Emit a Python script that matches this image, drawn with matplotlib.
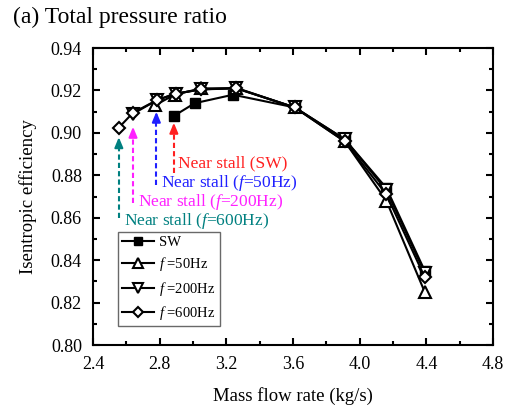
import matplotlib
matplotlib.use("Agg")
import matplotlib.pyplot as plt
from matplotlib.ticker import MultipleLocator

plt.rcParams['font.family'] = ['Liberation Serif', 'DejaVu Serif']
plt.rcParams['mathtext.fontset'] = 'custom'
plt.rcParams['mathtext.it'] = 'Liberation Serif:italic'
plt.rcParams['mathtext.rm'] = 'Liberation Serif'

sw_x = [2.885, 3.01, 3.24, 3.61, 3.91, 4.16, 4.39]
sw_y = [0.908, 0.914, 0.918, 0.912, 0.897, 0.874, 0.835]

f50_x = [2.77, 2.89, 3.05, 3.26, 3.61, 3.91, 4.16, 4.39]
f50_y = [0.913, 0.918, 0.921, 0.921, 0.912, 0.896, 0.868, 0.825]

f200_x = [2.64, 2.785, 2.895, 3.05, 3.26, 3.61, 3.91, 4.16, 4.39]
f200_y = [0.909, 0.9155, 0.9185, 0.9205, 0.921, 0.912, 0.897, 0.873, 0.834]

f600_x = [2.555, 2.64, 2.785, 2.895, 3.05, 3.26, 3.61, 3.91, 4.16, 4.39]
f600_y = [0.9025, 0.9095, 0.9155, 0.9185, 0.9205, 0.9212, 0.912, 0.896, 0.871, 0.832]

stall_labels = ['Near stall (SW)', r'Near stall ($f$=50Hz)', r'Near stall ($f$=200Hz)', r'Near stall ($f$=600Hz)']
stall_colors = ['#ff2020', '#2020ff', '#ff20ff', '#008080']
arrow_x = [2.885, 2.78, 2.64, 2.555]
arrow_top = [0.9048, 0.910, 0.9029, 0.898]
arrow_bottom = [0.881, 0.8754, 0.867, 0.860]
text_x = [2.91, 2.81, 2.67, 2.585]
text_y = [0.8858, 0.8765, 0.8674, 0.8584]

fig = plt.figure(figsize=(5.11, 4.07), dpi=100)
ax = fig.add_axes([0.182, 0.152, 0.783, 0.730])

ms = 7
ax.plot(sw_x, sw_y, '-', color='black', lw=1.5, marker='s', ms=ms, mfc='black', mec='black', label='SW', zorder=3)
ax.plot(f50_x, f50_y, '-', color='black', lw=1.5, marker='^', ms=ms+1, mfc='white', mec='black', mew=1.5, label=r'$f$ =50Hz', zorder=3)
ax.plot(f200_x, f200_y, '-', color='black', lw=1.5, marker='v', ms=ms+1, mfc='white', mec='black', mew=1.5, label=r'$f$ =200Hz', zorder=3)
ax.plot(f600_x, f600_y, '-', color='black', lw=1.5, marker='D', ms=ms-0.5, mfc='white', mec='black', mew=1.5, label=r'$f$ =600Hz', zorder=4)

for lab, c, ax_x, at, ab, tx, ty in zip(stall_labels, stall_colors, arrow_x, arrow_top, arrow_bottom, text_x, text_y):
    ax.plot([ax_x, ax_x], [ab, at - 0.004], ls=(0, (2.5, 1.5)), color=c, lw=1.5, zorder=2)
    ax.annotate('', xy=(ax_x, at), xytext=(ax_x, at - 0.0045),
                arrowprops=dict(arrowstyle='-|>,head_length=0.6,head_width=0.25', color=c, lw=1.5, shrinkA=0, shrinkB=0))
    ax.text(tx, ty, lab, color=c, fontsize=12.5, ha='left', va='center')

ax.set_xlim(2.4, 4.8)
ax.set_ylim(0.80, 0.94)
ax.xaxis.set_major_locator(MultipleLocator(0.4))
ax.xaxis.set_minor_locator(MultipleLocator(0.2))
ax.yaxis.set_major_locator(MultipleLocator(0.02))
ax.yaxis.set_minor_locator(MultipleLocator(0.01))
ax.xaxis.set_major_formatter(matplotlib.ticker.FormatStrFormatter('%.1f'))
ax.yaxis.set_major_formatter(matplotlib.ticker.FormatStrFormatter('%.2f'))
ax.tick_params(which='both', direction='in', top=True, right=True, width=1.5)
ax.tick_params(which='major', length=5, labelsize=13, pad=8)
ax.tick_params(which='minor', length=3)
for s in ax.spines.values():
    s.set_linewidth(1.5)

ax.set_xlabel('Mass flow rate (kg/s)', fontsize=13.5, labelpad=10)
ax.set_ylabel('Isentropic efficiency', fontsize=13.5, labelpad=10)

leg = ax.legend(loc='lower left', bbox_to_anchor=(0.0625, 0.064), borderaxespad=0, fontsize=10.5,
                frameon=True, fancybox=False, edgecolor='#444444', handlelength=2.2, handletextpad=0.3,
                borderpad=0.3, labelspacing=0.42, markerscale=0.85)
leg.get_frame().set_linewidth(1.0)

fig.text(0.025, 0.93, '(a) Total pressure ratio', fontsize=17, ha='left', va='bottom')

fig.savefig('out.png', dpi=100)
